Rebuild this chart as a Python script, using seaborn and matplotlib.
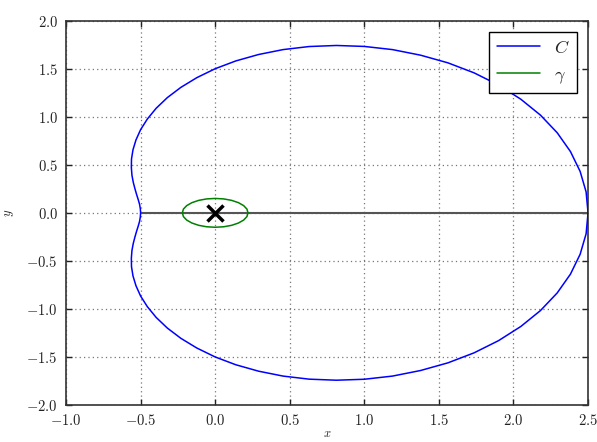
import numpy as np
import pandas as pd
import matplotlib
matplotlib.use("Agg")
import matplotlib.pyplot as plt
from matplotlib.ticker import FuncFormatter
import seaborn as sns

# Curva C (mitad superior y mitad inferior)
c_x_sup = [2.500, 2.487, 2.447, 2.382, 2.293, 2.181, 2.049, 1.900, 1.736, 1.561,
           1.377, 1.189, 1.000, 0.813, 0.630, 0.455, 0.291, 0.138, 0.000, -0.123,
           -0.230, -0.321, -0.396, -0.455, -0.500, -0.531, -0.551, -0.561, -0.562,
           -0.558, -0.549, -0.538, -0.527, -0.516, -0.507, -0.502, -0.500]
c_y_sup = [0.000, 0.218, 0.431, 0.638, 0.834, 1.017, 1.183, 1.330, 1.457, 1.561,
           1.641, 1.699, 1.732, 1.742, 1.731, 1.699, 1.648, 1.581, 1.500, 1.407,
           1.306, 1.199, 1.088, 0.976, 0.866, 0.759, 0.657, 0.561, 0.472,
           0.391, 0.317, 0.251, 0.192, 0.138, 0.089, 0.044, 0.000]
c_x_inf = [-0.500, -0.502, -0.507, -0.516, -0.527, -0.538, -0.549, -0.558, -0.562,
           -0.561, -0.551, -0.531, -0.500, -0.455, -0.396, -0.321, -0.230, -0.123,
           0.000, 0.138, 0.291, 0.455, 0.630, 0.813, 1.000, 1.189, 1.377, 1.561,
           1.736, 1.900, 2.049, 2.181, 2.293, 2.382, 2.447, 2.487, 2.500]
c_y_inf = [0.000, -0.044, -0.089, -0.138, -0.192, -0.251, -0.317, -0.391, -0.472,
           -0.561, -0.657, -0.759, -0.866, -0.976, -1.088, -1.199, -1.306, -1.407,
           -1.500, -1.581, -1.648, -1.699, -1.731, -1.742, -1.732, -1.699, -1.641, -1.561,
           -1.457, -1.330, -1.183, -1.017, -0.834, -0.638, -0.431, -0.218, 0.000]

# Curva gamma (elipse pequena alrededor del origen)
g_x = [0.220, 0.213, 0.191, 0.156, 0.110, 0.057, 0.000, -0.057, -0.110, -0.156,
       -0.191, -0.213, -0.220, -0.213, -0.191, -0.156, -0.110, -0.057, 0.000,
       0.057, 0.110, 0.156, 0.191, 0.213, 0.220]
g_y = [0.000, 0.039, 0.075, 0.106, 0.130, 0.145, 0.150, 0.145, 0.130, 0.106,
       0.075, 0.039, 0.000, -0.039, -0.075, -0.106, -0.130, -0.145, -0.150,
       -0.145, -0.130, -0.106, -0.075, -0.039, 0.000]

# Segmento sobre el eje real y el polo
seg_x = [-0.5, 2.5]
seg_y = [0.0, 0.0]
polo_x = [0.0]
polo_y = [0.0]

df_c = pd.DataFrame({"x": c_x_sup + c_x_inf[1:], "y": c_y_sup + c_y_inf[1:]})
df_g = pd.DataFrame({"x": g_x, "y": g_y})

sns.set_style("ticks")
plt.rcParams["font.family"] = ["DejaVu Serif"]
plt.rcParams["mathtext.fontset"] = "cm"

fig = plt.figure(figsize=(5.97, 4.42), dpi=100)
ax = fig.add_axes([0.1106, 0.0837, 0.8744, 0.8695])

ax.plot(seg_x, seg_y, color="#555555", lw=1.5, zorder=2)
sns.lineplot(data=df_c, x="x", y="y", sort=False, estimator=None, color="#0000ff",
             lw=1.1, label="$C$", ax=ax, zorder=3)
sns.lineplot(data=df_g, x="x", y="y", sort=False, estimator=None, color="#008000",
             lw=1.1, label=r"$\gamma$", ax=ax, zorder=3)
ax.plot(polo_x, polo_y, marker="x", color="black", ms=11, mew=2.5, ls="none", zorder=4)

ax.set_xlim(-1.0, 2.5)
ax.set_ylim(-2.0, 2.0)
ax.set_xticks(np.arange(-1.0, 2.51, 0.5))
ax.set_yticks(np.arange(-2.0, 2.01, 0.5))
fmt = FuncFormatter(lambda v, p: rf"${v:.1f}$")
ax.xaxis.set_major_formatter(fmt)
ax.yaxis.set_major_formatter(fmt)
ax.tick_params(direction="in", length=4, width=1, top=True, right=True,
               labelsize=10.5, pad=6, colors="#222222")
for s in ax.spines.values():
    s.set_linewidth(1.2)
    s.set_color("#333333")
ax.grid(True, color="#777777", ls=(0, (1, 2.5)), lw=0.9)

ax.set_xlabel("$x$", fontsize=9)
ax.set_ylabel("$y$", fontsize=9)
ax.xaxis.set_label_coords(0.5, -0.056)
ax.yaxis.set_label_coords(-0.095, 0.5)

leg = ax.legend(loc="upper right", fancybox=False, framealpha=1, edgecolor="black",
                fontsize=13, handlelength=2.4, borderaxespad=0.6)
leg.get_frame().set_linewidth(1.0)

fig.savefig("out.png", dpi=100)
